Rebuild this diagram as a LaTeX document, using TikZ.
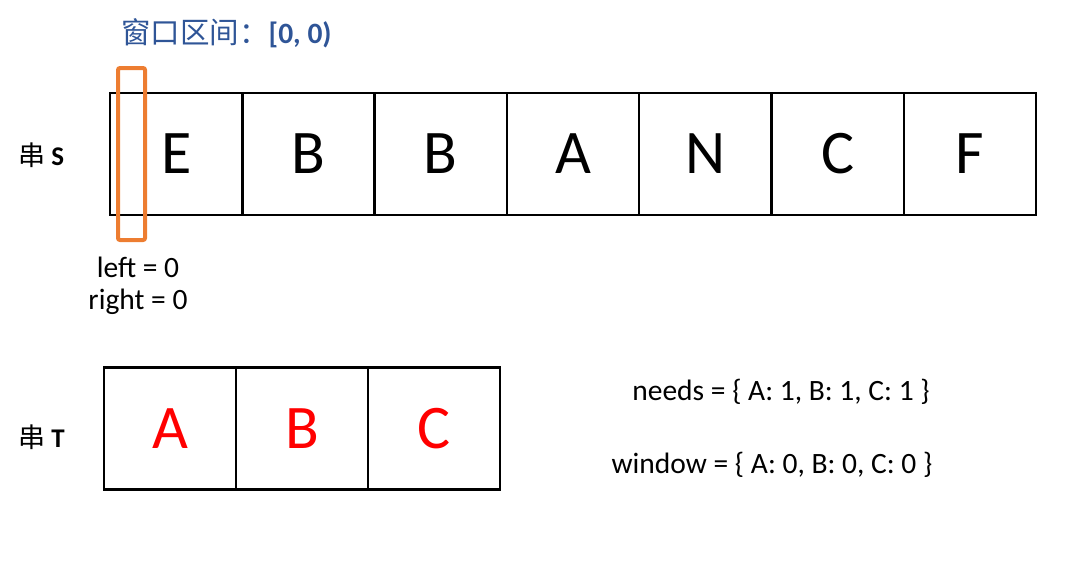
\documentclass[tikz,border=0pt]{standalone}
\usepackage{fontspec}
\setmainfont{Carlito}
\newfontfamily\cjk{Noto Sans CJK SC}
\definecolor{titleblue}{HTML}{2F5597}
\definecolor{winorange}{HTML}{ED7D31}
\definecolor{tred}{HTML}{FF0000}
\tikzset{
  cell/.style={draw=black, line width=2.5pt, minimum width=132.3pt, minimum height=122pt, inner sep=0pt, font=\fontsize{62}{62}\selectfont},
  tcell/.style={cell, text=tred},
  lab/.style={font=\fontsize{29.5}{32}\selectfont, inner sep=0pt},
  side/.style={font=\fontsize{27}{30}\selectfont, inner sep=0pt, anchor=west},
}
\begin{document}
\begin{tikzpicture}[x=1pt,y=-1pt]
\useasboundingbox (0,0) rectangle (1066,574);
\node[inner sep=0pt, text=titleblue, font=\fontsize{29.5}{32}\selectfont, anchor=west] (title) at (121,33) {{\cjk 窗口区间：}\textbf{[0, 0)}};
\node[side] (slabel) at (18,155) {{\cjk 串} \textbf{S}};
\foreach \ch [count=\i from 0] in {E,B,B,A,N,C,F} {
  \node[cell] (s\i) at ({110+66.15+\i*132.3},154) {\ch};
}
\draw[winorange, line width=4pt, rounded corners=2pt] (118,68) rectangle (145,240);
\coordinate (win) at (131.5,240);
\node[lab] (left) at (138,267) {left = 0};
\node[lab] (right) at (138,302) {right = 0};
\node[side] (tlabel) at (18,437) {{\cjk 串} \textbf{T}};
\foreach \ch [count=\i from 0] in {A,B,C} {
  \node[tcell] (t\i) at ({104+66+\i*132},428.5) {\ch};
}
\node[lab] (needs) at (781,392) {needs = \{ A: 1, B: 1, C: 1 \}};
\node[lab] (window) at (772,465) {window = \{ A: 0, B: 0, C: 0 \}};
\end{tikzpicture}
\end{document}
